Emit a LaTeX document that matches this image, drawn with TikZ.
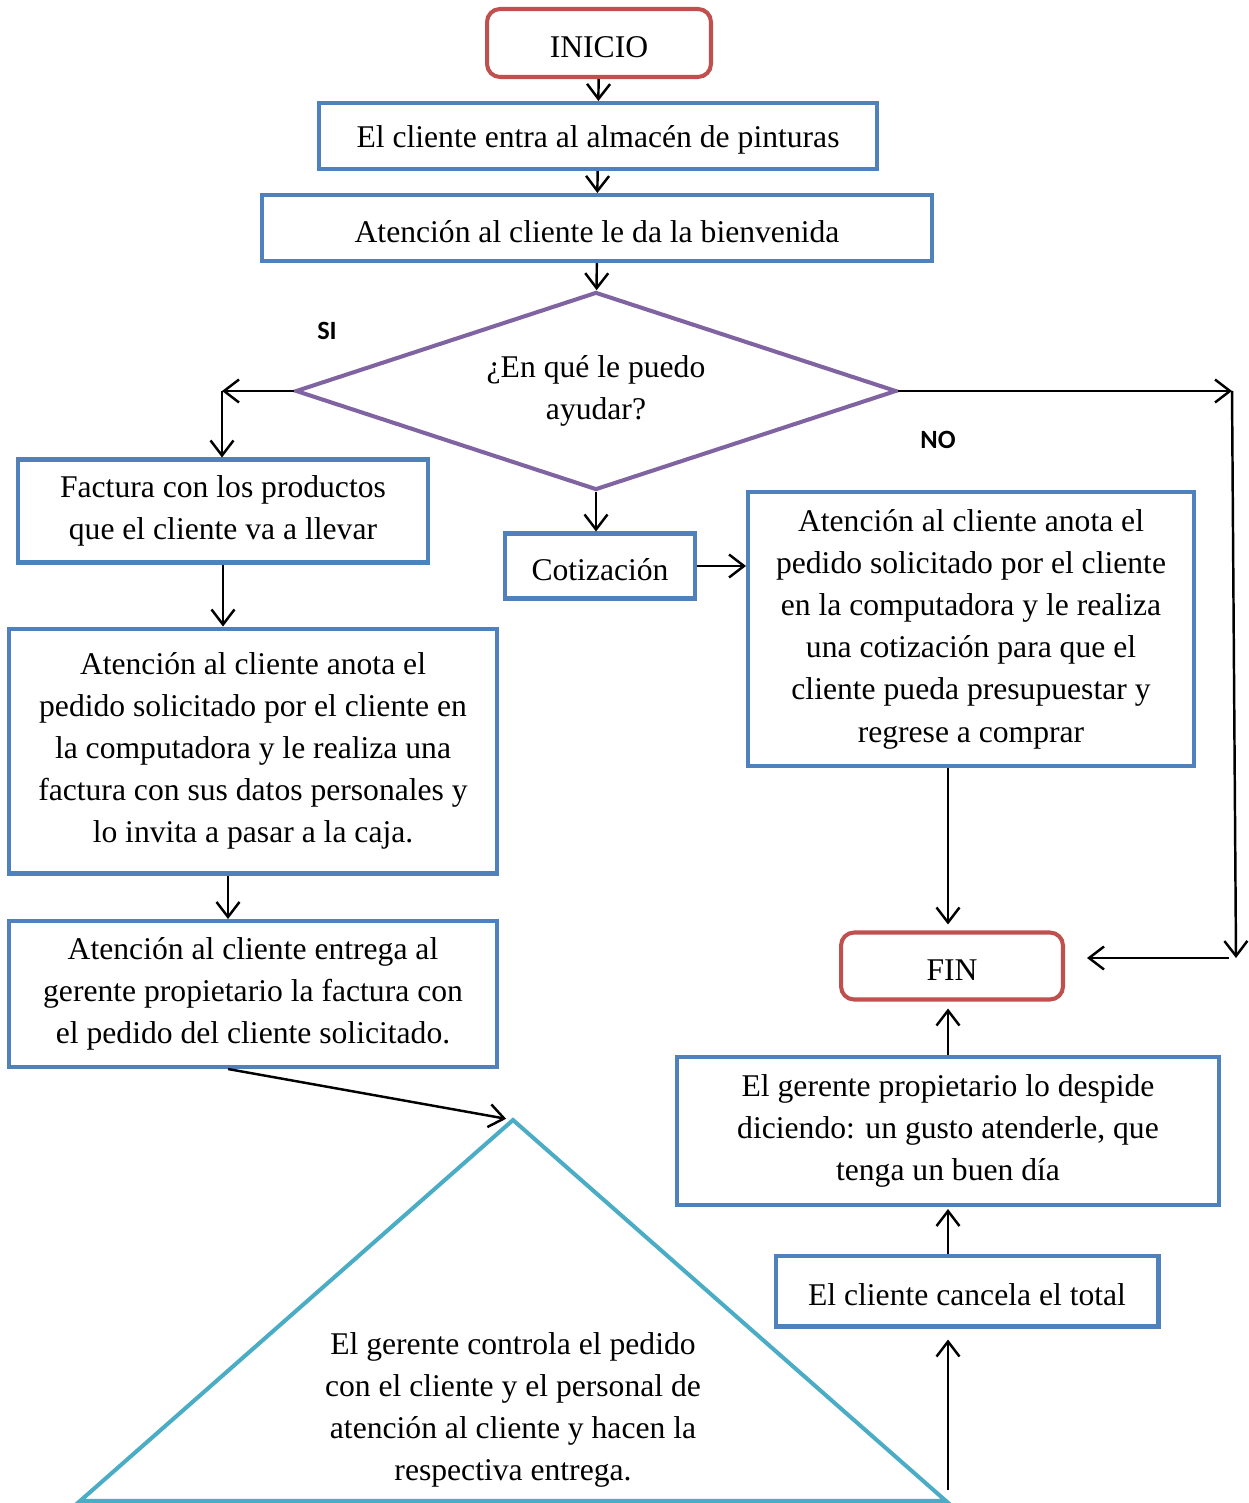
\documentclass[tikz,border=0pt]{standalone}
\usepackage{fontspec}
\setmainfont{Liberation Serif}
\newfontfamily\rotulo{Carlito}
\usepackage{tikz}
\usetikzlibrary{shapes.geometric,arrows.meta,positioning}
\definecolor{azul}{HTML}{4F81BD}
\definecolor{rojo}{HTML}{C0504D}
\definecolor{morado}{HTML}{8064A2}
\definecolor{celeste}{HTML}{4BACC6}
\tikzset{
  caja/.style={draw=azul,fill=white,line width=2.3pt,align=center,inner sep=0pt,font=\fontsize{18}{24}\selectfont,
    execute at begin node={\rule{0pt}{17pt}}},
  terminal/.style={caja,draw=rojo,rounded corners=2.6mm},
  decision/.style={caja,draw=morado,shape=diamond,aspect=3,execute at begin node={\rule{0pt}{19pt}}},
  flecha/.style={-{Straight Barb[length=3mm,width=4.6mm]},line width=1.4pt,black},
  etiqueta/.style={font=\rotulo\bfseries\fontsize{15}{18}\selectfont,inner sep=0pt},
  texto/.style={align=center,inner sep=0pt,font=\fontsize{18}{24}\selectfont},
}
\begin{document}
\begin{tikzpicture}[x=0.02cm,y=-0.02cm]
  \useasboundingbox (0,0) rectangle (1248,1503);
  \node[terminal,minimum width=4.48cm,minimum height=1.36cm] (inicio) at (599,43) {INICIO};
  \node[caja,minimum width=11.16cm,minimum height=1.32cm] (entra) at (598,136) {El cliente entra al almacén de pinturas};
  \node[caja,minimum width=13.4cm,minimum height=1.32cm] (bienvenida) at (597,228) {Atención al cliente le da la bienvenida};
  \node[decision,minimum width=12.02cm,minimum height=3.96cm] (ayuda) at (596,391) {¿En qué le puedo\\ayudar?};
  \node[etiqueta] (si) at (327,331) {SI};
  \node[etiqueta] (no) at (938,440) {NO};
  \node[caja,minimum width=8.2cm,minimum height=2.06cm] (factura) at (223,511) {Factura con los productos\\que el cliente va a llevar};
  \node[caja,minimum width=3.8cm,minimum height=1.3cm] (cotizacion) at (600,566) {Cotización};
  \node[caja,minimum width=8.92cm,minimum height=5.5cm] (anotacot) at (971,629) {Atención al cliente anota el\\pedido solicitado por el cliente\\en la computadora y le realiza\\una cotización para que el\\cliente pueda presupuestar y\\regrese a comprar};
  \node[caja,minimum width=9.76cm,minimum height=4.9cm] (anotafac) at (253,751) {Atención al cliente anota el\\pedido solicitado por el cliente en\\la computadora y le realiza una\\factura con sus datos personales y\\lo invita a pasar a la caja.};
  \node[caja,minimum width=9.76cm,minimum height=2.92cm] (entrega) at (253,994) {Atención al cliente entrega al\\gerente propietario la factura con\\el pedido del cliente solicitado.};
  \node[terminal,minimum width=4.44cm,minimum height=1.34cm] (fin) at (952,966) {FIN};
  \node[caja,minimum width=10.86cm,minimum height=2.96cm] (despide) at (948,1131) {El gerente propietario lo despide\\diciendo: un gusto atenderle, que\\tenga un buen día};
  \node[caja,minimum width=7.66cm,minimum height=1.42cm] (cancela) at (967,1291) {El cliente cancela el total};

  % triangulo del control de pedido
  \coordinate (vertice) at (513,1120);
  \coordinate (baseizq) at (80,1501);
  \coordinate (baseder) at (946,1501);
  \draw[celeste,line width=2.3pt,line join=miter] (baseizq) -- (vertice) -- (baseder) -- cycle;
  \node[texto] (control) at (513,1410) {El gerente controla el pedido\\con el cliente y el personal de\\atención al cliente y hacen la\\respectiva entrega.};

  \coordinate (giroSI) at (222,391);
  \coordinate (giroNO) at (1232,391);
  \coordinate (bajaNO) at (1236,958);
  \coordinate (pie) at (948,1490);

  \draw[flecha] (inicio) -- (entra);
  \draw[flecha] (entra) -- (bienvenida);
  \draw[flecha] (bienvenida) -- (ayuda);
  \draw[flecha] (ayuda.west) -- (giroSI);
  \draw[flecha] (giroSI) -- (giroSI |- factura.north);
  \draw[flecha] (ayuda.east) -- (giroNO);
  \draw[flecha] (giroNO) -- (bajaNO);
  \draw[flecha,shorten >=4.4mm] ([xshift=-1.5mm]bajaNO) -- (bajaNO -| fin.east);
  \draw[flecha] (ayuda.south) -- (cotizacion.north -| ayuda.south);
  \draw[flecha] (cotizacion.east) -- (cotizacion.east -| anotacot.west);
  \draw[flecha] (factura.south) -- (factura.south |- anotafac.north);
  \draw[flecha] ([xshift=-5mm]anotafac.south) -- ([xshift=-5mm]entrega.north);
  \draw[flecha,shorten >=1.4mm] ([xshift=-5mm]entrega.south) -- (vertice);
  \draw[flecha,shorten >=1.2mm] (pie |- anotacot.south) -- (pie |- fin.north);
  \draw[flecha,shorten >=1.4mm] (pie |- despide.north) -- (pie |- fin.south);
  \draw[flecha,shorten >=0.4mm] (pie |- cancela.north) -- (pie |- despide.south);
  \draw[flecha,shorten >=2.2mm] (pie) -- (pie |- cancela.south);
\end{tikzpicture}
\end{document}
